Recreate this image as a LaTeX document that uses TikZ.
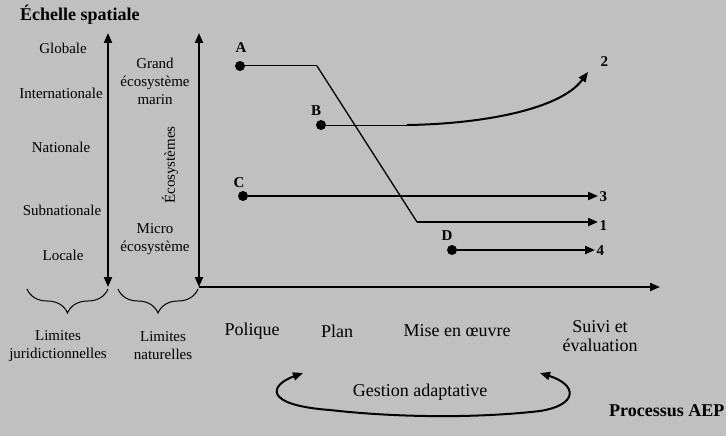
\documentclass[tikz,border=0pt]{standalone}
\usepackage{fontspec}
\setmainfont{Liberation Serif}
\usetikzlibrary{arrows.meta,decorations.pathreplacing}
\definecolor{bgrey}{RGB}{192,192,192}

\begin{document}
\begin{tikzpicture}[x=1pt, y=-1pt,
  lab/.style={font=\fontsize{15}{18}\selectfont, align=center, inner sep=1pt},
  stage/.style={font=\fontsize{18}{19}\selectfont, align=center, inner sep=1pt},
  hd/.style={font=\fontsize{18}{20}\selectfont\bfseries, inner sep=0pt},
  spot/.style={circle, fill, inner sep=0pt, minimum size=10pt},
  tag/.style={font=\fontsize{15}{17}\selectfont\bfseries, inner sep=1pt},
  res/.style={font=\fontsize{15}{17}\selectfont\bfseries, anchor=west,
    inner sep=1.5pt},
  axis/.style={line width=2pt,
    {Triangle[length=10pt,width=8pt]}-{Triangle[length=10pt,width=8pt]}},
  thinpath/.style={line width=1pt},
  midpath/.style={line width=1.3pt},
  thickpath/.style={line width=2pt, -{Triangle[length=10pt,width=8pt]}},
  grp/.style={decorate, decoration={brace, amplitude=24pt}, line width=1pt}]
\useasboundingbox[fill=bgrey] (0,0) rectangle (726,436);

% titles
\node (title) [hd, anchor=west] at (20,15) {\'Echelle spatiale};
\node (proc) [hd, anchor=west] at (609,411) {Processus AEP};

% axes
\coordinate (jur-top) at (108,33);
\coordinate (jur-bot) at (108,287);
\coordinate (nat-top) at (199,33);
\coordinate (nat-bot) at (199,287);
\coordinate (time-end) at (660,287);
\draw[axis] (jur-top) -- (jur-bot);
\draw[axis] (nat-top) -- (nat-bot);
\draw[line width=2pt, -{Triangle[length=10pt,width=8pt]}] (nat-bot) -- (time-end);

% jurisdictional scale
\node (glob) [lab] at (63,48) {Globale};
\node (intl) [lab] at (61,93) {Internationale};
\node (natl) [lab] at (61,147) {Nationale};
\node (subn) [lab] at (62,210) {Subnationale};
\node (locl) [lab] at (63,255) {Locale};

% ecosystem scale
\node (lme) [lab] at (155,81) {Grand\\\'ecosyst\`eme\\marin};
\node (micro) [lab] at (155,239) {Micro\\\'ecosyst\`eme};
\node (eco) [lab, rotate=90] at (170,165) {\'Ecosyst\`emes};

% braces
\draw[grp] (108,289) -- (27,289);
\draw[grp] (198,289) -- (118,289);
\node (ljur) [lab] at (58,346) {Limites\\juridictionnelles};
\node (lnat) [lab] at (163,346) {Limites\\naturelles};

% stages
\node (pol) [stage] at (252,331) {Polique};
\node (plan) [stage] at (337,331) {Plan};
\node (mise) [stage] at (457,331) {Mise en \oe uvre};
\node (suivi) [stage] at (600,336) {Suivi et\\\'evaluation};

% paths
\node (A) [spot] at (240,66) {};
\node (B) [spot] at (321,125) {};
\node (C) [spot] at (243,196) {};
\node (D) [spot] at (452,250) {};
\node [tag] at (241,48) {A};
\node [tag] at (316,111) {B};
\node [tag] at (239,183) {C};
\node [tag] at (447,236) {D};
\node (n1) [res] at (598,226) {1};
\node (n2) [res] at (599,62) {2};
\node (n3) [res] at (598,197) {3};
\node (n4) [res] at (595,251) {4};

\coordinate (A-knee) at (317,66);
\coordinate (A-low) at (417,222);
\coordinate (B-mid) at (407,125);
\coordinate (tip2) at (588,72);
\draw[thinpath] (A) -- (A-knee);
\draw[midpath] (A-knee) -- (A-low);
\draw[thickpath] (A-low) -- (A-low -| n1.west);
\draw[thinpath] (B) -- (B-mid);
\draw[thickpath] (B-mid) .. controls (480,124) and (560,110) .. (tip2);
\draw[thickpath] (C) -- (C -| n3.west);
\draw[thickpath] (D) -- (D -| n4.west);

% adaptive management
\node (ga) [stage] at (420,392) {Gestion adaptative};
\coordinate (ga-l) at (303,373);
\coordinate (ga-r) at (540,373);
\draw[line width=2pt,
  {Triangle[length=10pt,width=8pt]}-{Triangle[length=10pt,width=8pt]}]
  (ga-l) .. controls (270,385) and (262,405) .. (330,410)
  .. controls (400,418) and (480,418) .. (540,411)
  .. controls (578,405) and (578,385) .. (ga-r);
\end{tikzpicture}
\end{document}
